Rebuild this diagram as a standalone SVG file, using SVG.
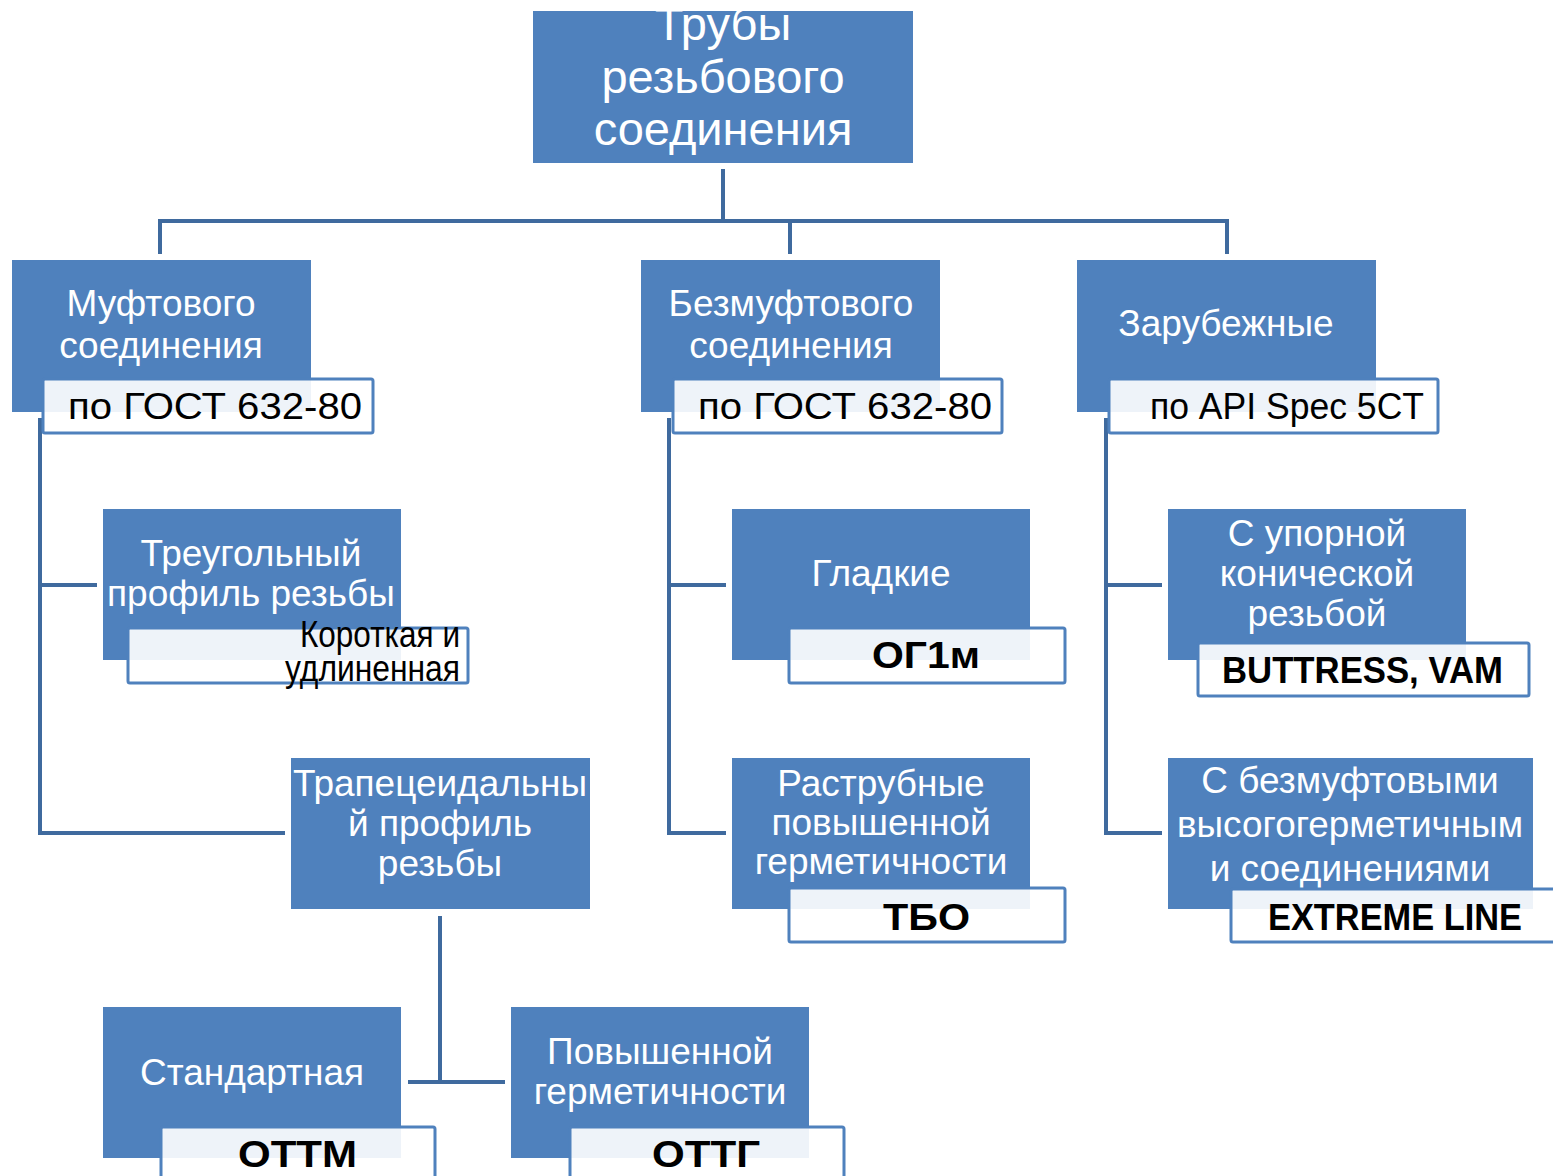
<svg xmlns="http://www.w3.org/2000/svg" width="1553" height="1176" viewBox="0 0 1553 1176">
<style>
.box{fill:#4F81BD}
.lbl{fill:#FFFFFF;fill-opacity:0.9;stroke:#4F81BD;stroke-width:3}
.t{font-family:"Liberation Sans",Arial,sans-serif;fill:#FFFFFF;font-size:37px;text-anchor:middle}
.tt{font-size:47px}
.k{font-family:"Liberation Sans",Arial,sans-serif;fill:#000000;font-size:37px}
.b{font-weight:bold}
.c{fill:none;stroke:#3F6A9E;stroke-width:4}
</style>
<rect width="1553" height="1176" fill="#FFFFFF"/>
<g id="connectors">
<path class="c" d="M723 169V221M158 221H1229M160 221V254M790 221V254M1227 221V254"/>
<path class="c" d="M40 418V835M38 585H97M38 833H285"/>
<path class="c" d="M669 418V835M667 585H726M667 833H726"/>
<path class="c" d="M1106 418V835M1104 585H1162M1104 833H1162"/>
<path class="c" d="M440 916V1084M408 1082H505"/>
</g>
<g id="root">
<rect class="box" x="533" y="11" width="380" height="152"/>
<text class="t tt" x="723" y="40">Трубы</text>
<text class="t tt" x="723" y="93">резьбового</text>
<text class="t tt" x="723" y="145">соединения</text>
</g>
<g id="mufta">
<rect class="box" x="12" y="260" width="299" height="152"/>
<text class="t" x="161" y="316">Муфтового</text>
<text class="t" x="161" y="358">соединения</text>
<rect class="lbl" x="43" y="379" width="330" height="54" rx="2"/>
<text class="k" x="68" y="419" font-size="38" textLength="294" lengthAdjust="spacingAndGlyphs">по ГОСТ 632-80</text>
</g>
<g id="bezmufta">
<rect class="box" x="641" y="260" width="299" height="152"/>
<text class="t" x="791" y="316">Безмуфтового</text>
<text class="t" x="791" y="358">соединения</text>
<rect class="lbl" x="673" y="379" width="329" height="54" rx="2"/>
<text class="k" x="698" y="419" font-size="38" textLength="294" lengthAdjust="spacingAndGlyphs">по ГОСТ 632-80</text>
</g>
<g id="zarub">
<rect class="box" x="1077" y="260" width="299" height="152"/>
<text class="t" x="1226" y="336">Зарубежные</text>
<rect class="lbl" x="1109" y="379" width="329" height="54" rx="2"/>
<text class="k" x="1150" y="419" font-size="38" textLength="274" lengthAdjust="spacingAndGlyphs">по API Spec 5CT</text>
</g>
<g id="treug">
<rect class="box" x="103" y="509" width="298" height="151"/>
<text class="t" x="251" y="566">Треугольный</text>
<text class="t" x="251" y="606">профиль резьбы</text>
<rect class="lbl" x="128" y="628" width="340" height="55" rx="2"/>
<text class="k" x="300" y="647" font-size="27" textLength="160" lengthAdjust="spacingAndGlyphs">Короткая и</text>
<text class="k" x="285" y="681" font-size="27" textLength="175" lengthAdjust="spacingAndGlyphs">удлиненная</text>
</g>
<g id="trapec">
<rect class="box" x="291" y="758" width="299" height="151"/>
<text class="t" x="440" y="796" textLength="294" lengthAdjust="spacingAndGlyphs">Трапецеидальны</text>
<text class="t" x="440" y="836">й профиль</text>
<text class="t" x="440" y="876">резьбы</text>
</g>
<g id="gladkie">
<rect class="box" x="732" y="509" width="298" height="151"/>
<text class="t" x="881" y="586">Гладкие</text>
<rect class="lbl" x="789" y="628" width="276" height="55" rx="2"/>
<text class="k b" x="872" y="668" font-size="42" textLength="108" lengthAdjust="spacingAndGlyphs">ОГ1м</text>
</g>
<g id="rastrub">
<rect class="box" x="732" y="758" width="298" height="151"/>
<text class="t" x="881" y="796">Раструбные</text>
<text class="t" x="881" y="835">повышенной</text>
<text class="t" x="881" y="874">герметичности</text>
<rect class="lbl" x="789" y="888" width="276" height="54" rx="2"/>
<text class="k b" x="883" y="930" font-size="43" textLength="87" lengthAdjust="spacingAndGlyphs">ТБО</text>
</g>
<g id="upor">
<rect class="box" x="1168" y="509" width="298" height="151"/>
<text class="t" x="1317" y="546">С упорной</text>
<text class="t" x="1317" y="586">конической</text>
<text class="t" x="1317" y="626">резьбой</text>
<rect class="lbl" x="1198" y="643" width="331" height="53" rx="2"/>
<text class="k b" x="1222" y="683" font-size="37" textLength="281" lengthAdjust="spacingAndGlyphs">BUTTRESS, VAM</text>
</g>
<g id="bezmufta-hg">
<rect class="box" x="1168" y="758" width="365" height="151"/>
<text class="t" x="1350" y="793">С безмуфтовыми</text>
<text class="t" x="1350" y="837" textLength="346" lengthAdjust="spacingAndGlyphs">высогогерметичным</text>
<text class="t" x="1350" y="881">и соединениями</text>
<rect class="lbl" x="1231" y="889" width="340" height="53" rx="2"/>
<text class="k b" x="1268" y="930" font-size="37" textLength="254" lengthAdjust="spacingAndGlyphs">EXTREME LINE</text>
</g>
<g id="standart">
<rect class="box" x="103" y="1007" width="298" height="151"/>
<text class="t" x="252" y="1085">Стандартная</text>
<rect class="lbl" x="161" y="1127" width="274" height="70" rx="2"/>
<text class="k b" x="238" y="1167" font-size="46" textLength="119" lengthAdjust="spacingAndGlyphs">ОТТМ</text>
</g>
<g id="povysh">
<rect class="box" x="511" y="1007" width="298" height="151"/>
<text class="t" x="660" y="1064">Повышенной</text>
<text class="t" x="660" y="1104">герметичности</text>
<rect class="lbl" x="570" y="1127" width="274" height="70" rx="2"/>
<text class="k b" x="652" y="1167" font-size="46" textLength="108" lengthAdjust="spacingAndGlyphs">ОТТГ</text>
</g>
</svg>
